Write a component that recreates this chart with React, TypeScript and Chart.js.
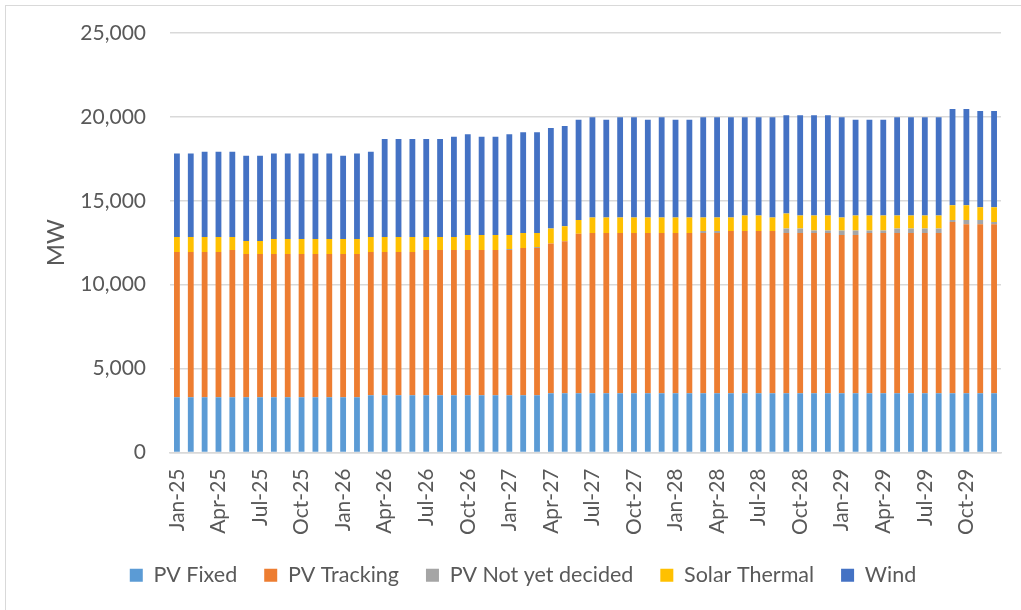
import { useEffect, useRef } from "react";
import { Chart, registerables } from "chart.js";
Chart.register(...registerables);

const categories = [
  "Jan-25","Feb-25","Mar-25","Apr-25","May-25","Jun-25","Jul-25","Aug-25","Sep-25","Oct-25","Nov-25","Dec-25",
  "Jan-26","Feb-26","Mar-26","Apr-26","May-26","Jun-26","Jul-26","Aug-26","Sep-26","Oct-26","Nov-26","Dec-26",
  "Jan-27","Feb-27","Mar-27","Apr-27","May-27","Jun-27","Jul-27","Aug-27","Sep-27","Oct-27","Nov-27","Dec-27",
  "Jan-28","Feb-28","Mar-28","Apr-28","May-28","Jun-28","Jul-28","Aug-28","Sep-28","Oct-28","Nov-28","Dec-28",
  "Jan-29","Feb-29","Mar-29","Apr-29","May-29","Jun-29","Jul-29","Aug-29","Sep-29","Oct-29","Nov-29","Dec-29",
];

const pvFixed = [
  3290,3290,3290,3290,3290,3290,3290,3290,3290,3290,3290,3290,
  3290,3290,3410,3410,3410,3410,3410,3410,3410,3410,3410,3410,
  3410,3410,3410,3530,3530,3530,3530,3530,3530,3530,3530,3530,
  3530,3530,3530,3530,3530,3530,3530,3530,3530,3530,3530,3530,
  3530,3530,3530,3530,3530,3530,3530,3530,3530,3530,3530,3530,
];

const pvTracking = [
  8660,8660,8660,8660,8780,8540,8540,8540,8540,8540,8540,8540,
  8540,8540,8540,8540,8540,8540,8660,8660,8660,8660,8660,8660,
  8660,8780,8780,8920,9060,9500,9555,9555,9555,9555,9555,9555,
  9555,9555,9555,9555,9675,9675,9675,9675,9555,9555,9555,9555,
  9435,9435,9555,9555,9555,9555,9555,9555,10210,10070,10070,10070,
];

const pvNotDecided = [
  0,0,0,0,0,0,0,0,0,0,0,0,
  0,0,0,0,0,0,0,0,0,0,0,0,
  60,0,60,0,0,0,0,0,0,0,0,0,
  0,0,120,120,0,0,0,0,260,260,140,140,
  260,260,140,140,260,260,260,260,120,260,260,140,
];

const solarThermal = [
  895,895,895,895,775,775,775,895,895,895,895,895,
  895,895,895,895,895,895,775,775,775,895,895,895,
  835,895,835,895,895,830,915,915,915,915,915,915,
  915,915,795,795,795,915,915,795,895,775,895,895,
  775,895,895,895,775,775,775,775,875,875,760,880,
];

const wind = [
  4980,4980,5075,5075,5075,5080,5080,5100,5100,5100,5100,5100,
  4960,5100,5075,5835,5835,5835,5835,5835,5975,5995,5855,5855,
  5995,5995,5995,5995,5970,5975,5975,5835,5975,5975,5835,5975,
  5835,5835,5975,5975,5975,5855,5855,5975,5855,5975,5975,5975,
  5975,5715,5715,5715,5855,5855,5855,5855,5735,5735,5730,5730,
];

const yTicks = [0, 5000, 10000, 15000, 20000, 25000];

const TEXT = "#595959";
const FONT = "Lato";

export default function App() {
  const ref = useRef<HTMLCanvasElement>(null);

  useEffect(() => {
    if (!ref.current) return;
    const chart = new Chart(ref.current, {
      type: "bar",
      data: {
        labels: categories,
        datasets: [
          { label: "PV Fixed", data: pvFixed, backgroundColor: "#5B9BD5" },
          { label: "PV Tracking", data: pvTracking, backgroundColor: "#ED7D31" },
          { label: "PV Not yet decided", data: pvNotDecided, backgroundColor: "#A5A5A5" },
          { label: "Solar Thermal", data: solarThermal, backgroundColor: "#FFC000" },
          { label: "Wind", data: wind, backgroundColor: "#4472C4" },
        ],
      },
      options: {
        animation: false,
        responsive: false,
        maintainAspectRatio: false,
        datasets: { bar: { categoryPercentage: 1, barPercentage: 0.42 } },
        layout: { padding: { left: 45, right: 20, top: 33, bottom: 14 } },
        plugins: {
          legend: {
            position: "bottom",
            labels: {
              boxWidth: 13,
              boxHeight: 13,
              padding: 27,
              color: TEXT,
              font: { family: FONT, size: 21.5 },
            },
          },
          tooltip: { enabled: false },
        },
        scales: {
          x: {
            stacked: true,
            grid: { display: false, drawTicks: false },
            border: { display: true, color: "#d9d9d9", width: 1.5 },
            ticks: {
              autoSkip: false,
              maxRotation: 90,
              minRotation: 90,
              padding: 16,
              color: TEXT,
              font: { family: FONT, size: 21 },
              callback: (_v: any, i: number) => (i % 3 === 0 ? categories[i] : ""),
            },
            afterFit: (s: any) => {
              s.height = 85;
              s.paddingLeft = 0;
              s.paddingRight = 0;
            },
          },
          y: {
            stacked: true,
            min: yTicks[0],
            max: yTicks[yTicks.length - 1],
            afterBuildTicks: (s: any) => {
              s.ticks = yTicks.map((v) => ({ value: v }));
            },
            grid: { color: "#d9d9d9", lineWidth: 1.5, drawTicks: false },
            border: { display: false },
            ticks: {
              padding: 24,
              color: TEXT,
              font: { family: FONT, size: 21 },
              callback: (v: any) => Number(v).toLocaleString("en-US"),
            },
            title: {
              display: true,
              text: "MW",
              color: TEXT,
              font: { family: FONT, size: 24 },
              padding: { top: -3, bottom: 0 },
            },
            afterFit: (s: any) => {
              s.width = 125;
              s.paddingTop = 0;
              s.paddingBottom = 0;
            },
          },
        },
      },
    });
    return () => chart.destroy();
  }, []);

  return (
    <div style={{ position: "absolute", left: 0, top: 0, width: 1021, height: 610, background: "#fff", overflow: "hidden" }}>
      <div
        style={{
          position: "absolute",
          left: 5,
          top: 5,
          width: 1100,
          height: 700,
          borderLeft: "1px solid #d9d9d9",
          borderTop: "1px solid #d9d9d9",
        }}
      />
      <canvas ref={ref} width={1021} height={610} style={{ position: "absolute", left: 0, top: 0, display: "block" }} />
    </div>
  );
}
